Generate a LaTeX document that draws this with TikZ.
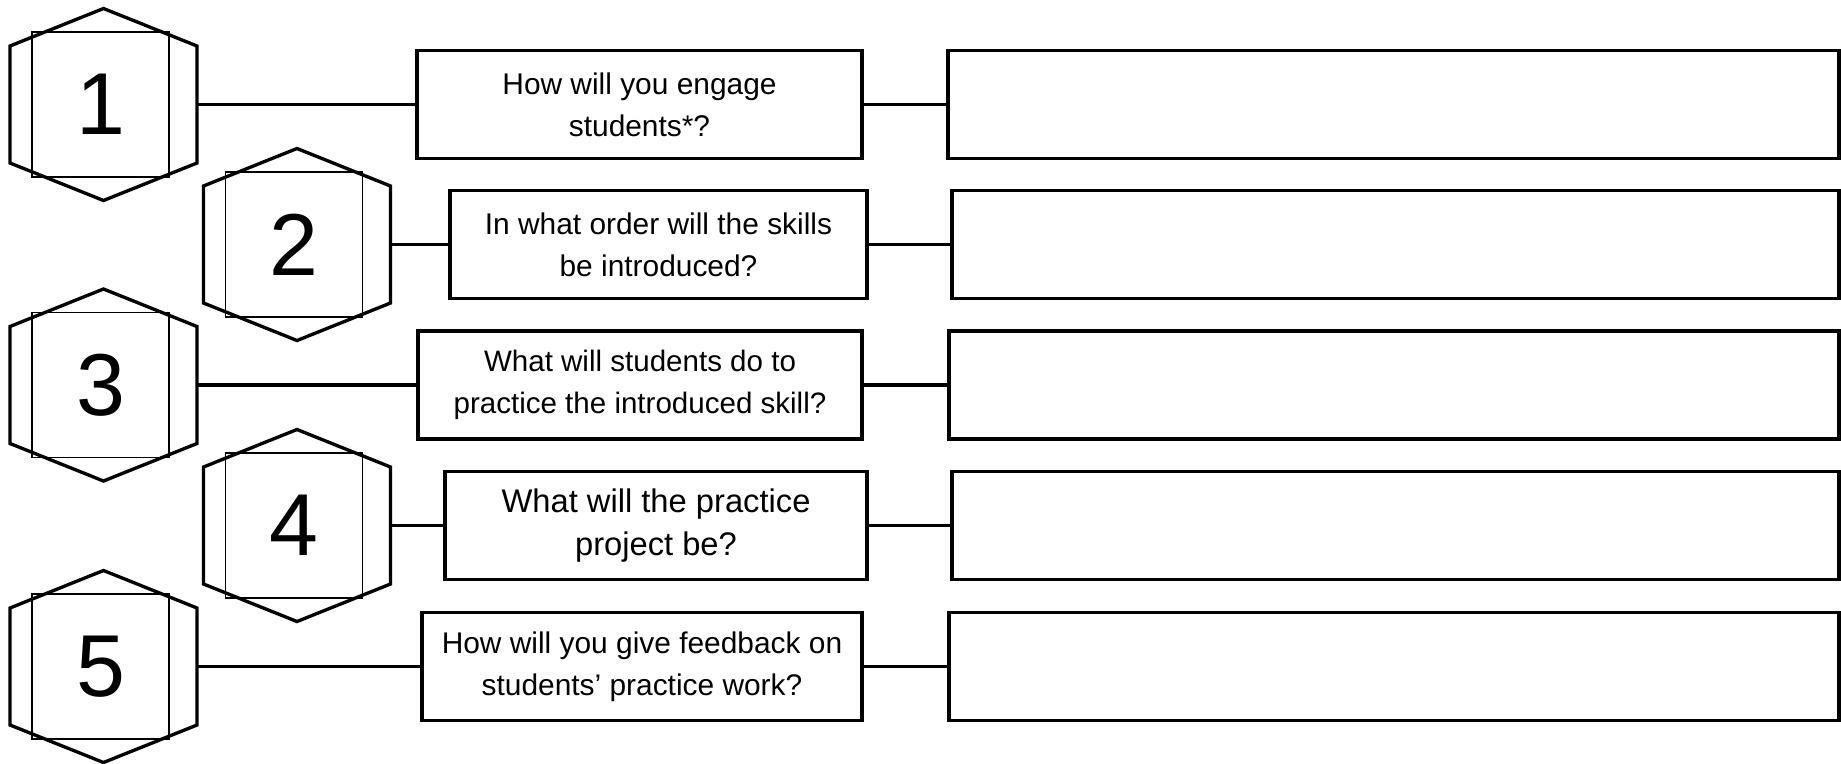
\documentclass[tikz,border=0pt]{standalone}
\usepackage{fontspec}
\setmainfont{Liberation Sans}
\begin{document}
\begin{tikzpicture}[x=0.01cm, y=-0.01cm,
  hexline/.style={line width=0.95pt, line join=miter},
  numbox/.style={draw, line width=0.4pt, minimum width=1.37cm, minimum height=1.45cm,
    inner sep=0pt, font=\fontsize{25}{25}\selectfont},
  askbox/.style={draw, line width=0.9pt, minimum height=1.08cm, inner sep=0pt, align=center},
  link/.style={line width=0.9pt}]
  \useasboundingbox (0,0) rectangle (1841,763);

  % Rows: number / hexagon x / row y / question x / question width / answer left / font size / question
  \foreach \i/\hx/\y/\qx/\qw/\ax/\fs/\ask in {
      1/103.5/104.5/639.5/445/948/8.5/{How will you engage\\students*?},
      2/297/244.5/658.5/417/952/8.5/{In what order will the skills\\be introduced?},
      3/103.5/385/640/444/949/8.4/{What will students do to\\practice the introduced skill?},
      4/297/525.5/656/422/952/9.3/{What will the practice\\project be?},
      5/103.5/666.5/642/440/949/8.5/{How will you give feedback on\\students’ practice work?}}{
    % Hexagon with number
    \draw[hexline] (\hx,\y) ++(0,-96) -- ++(93.5,37.5) -- ++(0,117) -- ++(-93.5,37.5)
      -- ++(-93.5,-37.5) -- ++(0,-117) -- cycle;
    \node[numbox] (n\i) at (\hx-3,\y) {\i};
    \coordinate (hr\i) at (\hx+93.5,\y);
    % Question and empty answer box
    \node[askbox, minimum width={\qw*0.01cm}, font=\fontsize{\fs}{12}\selectfont] (q\i) at (\qx,\y) {\ask};
    \node[askbox, minimum width={(1839-\ax)*0.01cm}] (a\i) at ({(\ax+1839)/2},\y) {};
    \draw[link] (hr\i) -- (q\i);
    \draw[link] (q\i) -- (a\i);
  }
\end{tikzpicture}
\end{document}
